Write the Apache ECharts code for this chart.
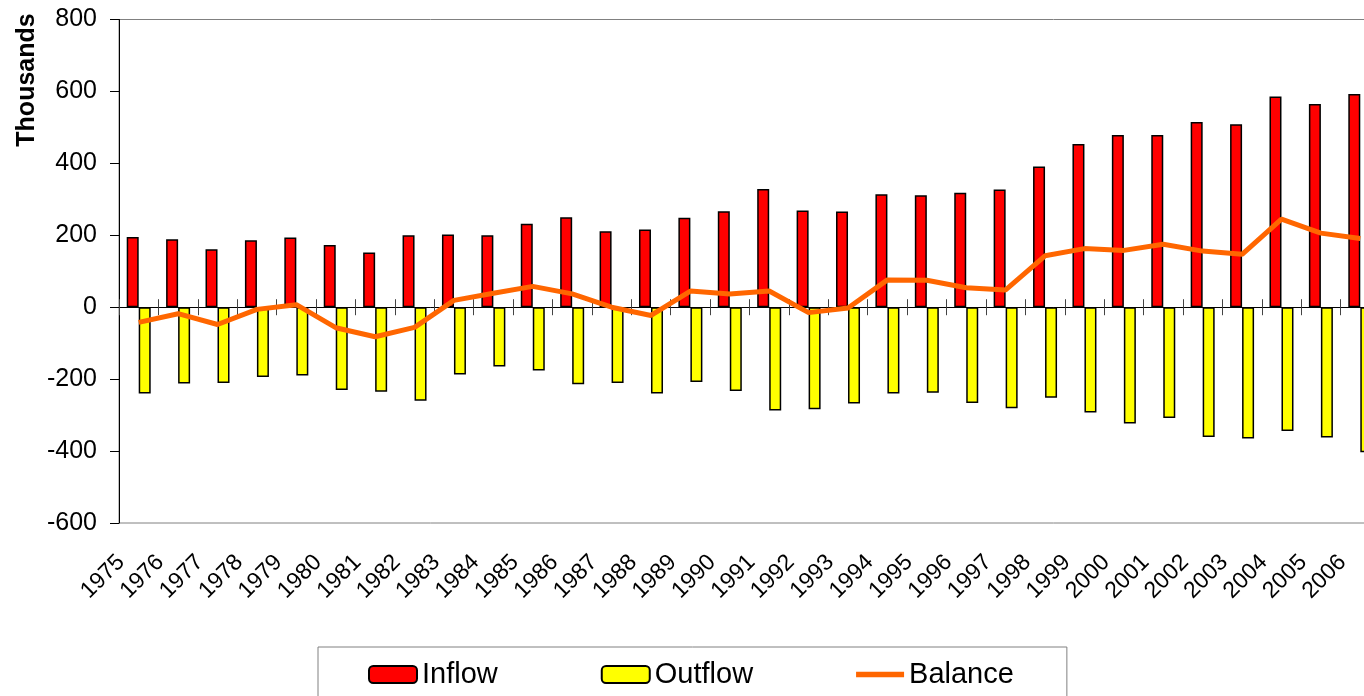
<!DOCTYPE html>
<html>
<head>
<meta charset="utf-8">
<script src="https://cdn.jsdelivr.net/npm/echarts@6/dist/echarts.min.js"></script>
<style>
    body {
        margin: 0;
        background: #ffffff;
    }
    #chart {
        width: 1364px;
        height: 696px;
    }
</style>
</head>
<body>
<div id="chart"></div>
<script>
    let years = ['1975', '1976', '1977', '1978', '1979', '1980', '1981', '1982', '1983', '1984',
        '1985', '1986', '1987', '1988', '1989', '1990', '1991', '1992', '1993', '1994',
        '1995', '1996', '1997', '1998', '1999', '2000', '2001', '2002', '2003', '2004',
        '2005', '2006'];
    let inflow = [195, 189, 161, 186, 194, 173, 152, 200, 202, 200,
        232, 250, 211, 216, 249, 267, 329, 269, 266, 314,
        311, 318, 327, 391, 454, 479, 479, 515, 509, 586,
        565, 593];
    let outflow = [-240, -212, -211, -194, -190, -230, -235, -260, -187, -165,
        -176, -214, -211, -240, -208, -233, -287, -284, -268, -240,
        -238, -266, -281, -252, -293, -323, -308, -361, -365, -344,
        -362, -403];
    let balance = [-42, -18, -48, -6, 7, -57, -82, -56, 19, 39,
        58, 37, 0, -23, 45, 37, 45, -15, -2, 76,
        75, 54, 48, 143, 163, 158, 175, 156, 147, 245,
        206, 191];

    let font = 'Liberation Sans, Arial, sans-serif';
    let myChart = echarts.init(document.getElementById('chart'));

    let option = {
        animation: false,
        textStyle: {
            fontFamily: font
        },
        graphic: [{
            type: 'text',
            x: 27,
            y: 80,
            rotation: Math.PI / 2,
            style: {
                text: 'Thousands',
                font: 'bold 25px ' + font,
                fill: '#000',
                align: 'center',
                verticalAlign: 'middle'
            }
        }],
        legend: {
            left: 318,
            top: 647,
            padding: [13, 53, 40, 50],
            itemGap: 103,
            itemWidth: 48,
            itemHeight: 17,
            borderColor: '#808080',
            borderWidth: 1,
            textStyle: {
                fontSize: 29,
                color: '#000'
            },
            data: ['Inflow', 'Outflow', {name: 'Balance', icon: 'path://M0,0 L45,0 L45,5 L0,5 Z'}]
        },
        grid: {
            left: 119,
            right: -16,
            top: 19.5,
            bottom: 173,
            show: true,
            borderColor: '#808080',
            borderWidth: 1,
            outerBoundsMode: 'none'
        },
        xAxis: [{
            // zero line, ticks below
            type: 'category',
            data: years,
            position: 'bottom',
            axisLine: {onZero: true, onZeroAxisIndex: 0, lineStyle: {color: '#000', width: 1}},
            axisTick: {show: true, length: 8, lineStyle: {color: '#444'}},
            axisLabel: {show: false}
        }, {
            // zero line, ticks above
            type: 'category',
            data: years,
            position: 'top',
            axisLine: {show: false, onZero: true, onZeroAxisIndex: 0},
            axisTick: {show: true, length: 8, lineStyle: {color: '#444'}},
            axisLabel: {show: false}
        }, {
            // year labels at the bottom
            type: 'category',
            data: years,
            position: 'bottom',
            axisLine: {show: false, onZero: false},
            axisTick: {show: false},
            axisLabel: {
                rotate: 45,
                interval: 0,
                fontSize: 23,
                color: '#000',
                margin: 18,
                padding: [0, 25, 0, 0]
            }
        }],
        yAxis: {
            type: 'value',
            min: -600,
            max: 800,
            interval: 200,
            splitLine: {show: false},
            axisLine: {show: true, lineStyle: {color: '#000'}},
            axisTick: {show: true, length: 9, lineStyle: {color: '#000'}},
            axisLabel: {
                fontSize: 25,
                color: '#000',
                margin: 22
            }
        },
        series: [{
            name: 'Inflow',
            type: 'bar',
            data: inflow,
            barWidth: 12,
            barGap: '0%',
            itemStyle: {color: '#FF0000', borderColor: '#000', borderWidth: 1.5}
        }, {
            name: 'Outflow',
            type: 'bar',
            data: outflow,
            barWidth: 12,
            barGap: '0%',
            itemStyle: {color: '#FFFF00', borderColor: '#000', borderWidth: 1.5}
        }, {
            name: 'Balance',
            type: 'line',
            data: balance,
            symbol: 'none',
            z: 5,
            itemStyle: {color: '#FF6600'},
            lineStyle: {color: '#FF6600', width: 5}
        }]
    };
    myChart.setOption(option);
</script>
</body>
</html>
